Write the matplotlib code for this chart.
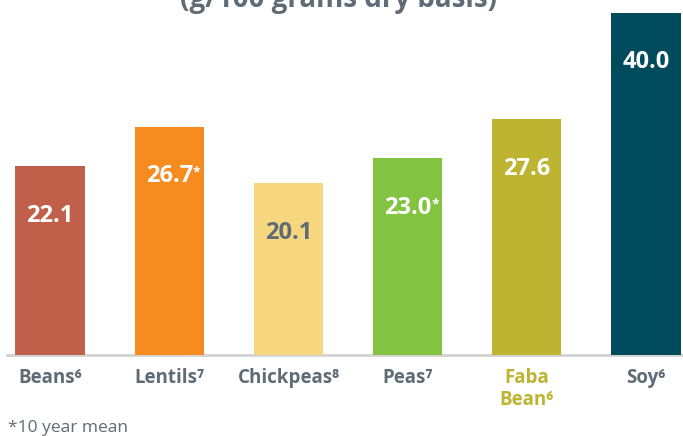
import numpy as np
import matplotlib.pyplot as plt

plt.rcParams['font.family'] = ['Open Sans', 'DejaVu Sans']

# data
crops = ['Beans⁶', 'Lentils⁷', 'Chickpeas⁸', 'Peas⁷', 'Faba\nBean⁶', 'Soy⁶']
protein = [22.1, 26.7, 20.1, 23.0, 27.6, 40.0]
value_labels = ['22.1', '26.7', '20.1', '23.0', '27.6', '40.0']
ten_year_mean = [False, True, False, True, False, False]
colors = ['#c0604a', '#f68b1f', '#f6d67f', '#82c341', '#bfb431', '#004b5c']
label_colors = ['white', 'white', '#5f6b75', 'white', 'white', 'white']

grey = '#5f6b75'

fig = plt.figure(figsize=(6.83, 4.36), dpi=100)
ax = fig.add_axes([0, 81 / 436, 1, 355 / 436])

x = np.arange(len(crops))
ax.bar(x, protein, width=0.58, color=colors, zorder=2)

for xi, v, lab, c, star in zip(x, protein, value_labels, label_colors, ten_year_mean):
    t = ax.text(xi, v - 5.8, lab, ha='center', va='center', color=c,
                fontsize=17, fontweight='bold')
    if star:
        ax.annotate('*', xy=(1.0, 0.95), xycoords=t, ha='left', va='top',
                    color=c, fontsize=10, fontweight='bold')

ax.set_xlim(-0.42, 5.31)
ax.set_ylim(0, 41.5)
ax.axhline(0, xmin=0.01, xmax=1, color='#d3d3d3', lw=2, zorder=1, clip_on=False)

ax.set_xticks(x)
ax.set_xticklabels(crops, fontsize=13.5, fontweight='bold', color=grey,
                   linespacing=1.15)
ax.get_xticklabels()[4].set_color('#bfb431')
ax.tick_params(axis='x', length=0, pad=9)
ax.set_yticks([])
for s in ax.spines.values():
    s.set_visible(False)

# title is cut off at the top of the image
fig.text(0.495, 1.0, '(g/100 grams dry basis)', ha='center', va='center',
         fontsize=20, fontweight='bold', color=grey)
fig.text(0.012, 0.018, '*10 year mean', ha='left', va='center',
         fontsize=12.5, color=grey)

fig.savefig('out.png', dpi=100)
